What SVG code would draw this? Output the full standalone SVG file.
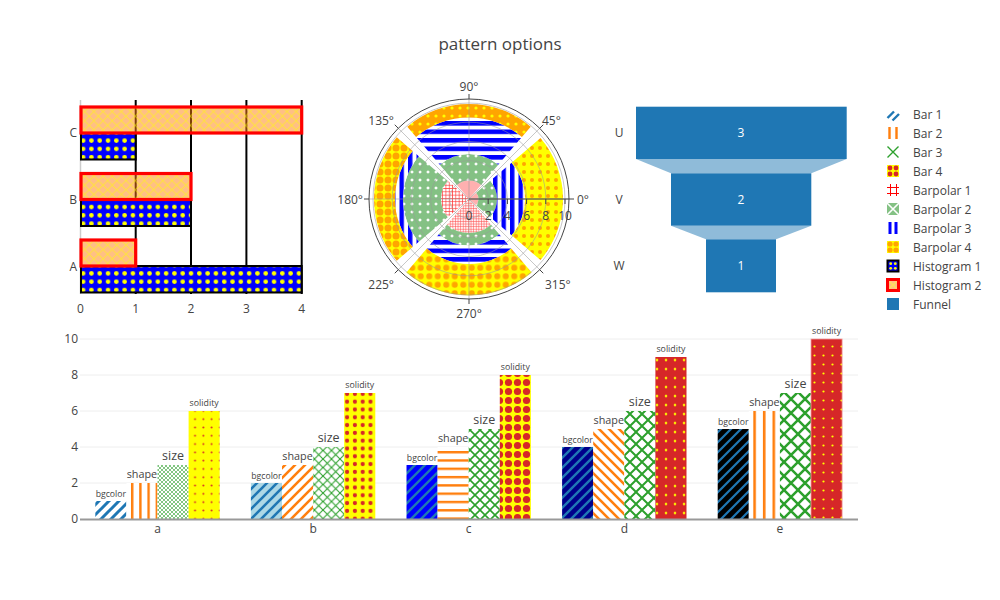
<svg xmlns="http://www.w3.org/2000/svg" width="1000" height="600" viewBox="0 0 1000 600">
<style>
text{font-family:"Open Sans",Verdana,"Liberation Sans",Arial,sans-serif;fill:#444}
.t12{font-size:12px}
.mid{text-anchor:middle}
.end{text-anchor:end}
.pg{fill:none;stroke:#999;stroke-opacity:.55;stroke-width:1}
.ax{stroke:#444;stroke-width:1;fill:none}
</style>
<defs>
<!-- histogram patterns -->
<pattern id="hdots" patternUnits="userSpaceOnUse" x="79" y="136.5" width="8.3" height="8.3"><rect width="8.3" height="8.3" fill="#0000ff"/><circle cx="4.15" cy="4.15" r="2.3" fill="#ffff00"/></pattern>
<pattern id="hx" patternUnits="userSpaceOnUse" x="80" y="107" width="9.2" height="9.2"><rect width="9.2" height="9.2" fill="#ff7f0e" fill-opacity="0.5"/><path d="M-1,-1L10.2,10.2M10.2,-1L-1,10.2" stroke="#ffff00" stroke-opacity="0.55" stroke-width="1"/></pattern>
<!-- polar patterns -->
<pattern id="pgA" patternUnits="userSpaceOnUse" width="3.3" height="3.3"><rect width="3.3" height="3.3" fill="#fff"/><path d="M0,0.35H3.3M0.35,0V3.3" stroke="#ff3535" stroke-width="0.7"/></pattern>
<pattern id="pgB" patternUnits="userSpaceOnUse" width="2.6" height="2.6"><rect width="2.6" height="2.6" fill="#fff2f2"/><path d="M0,0.3H2.6M0.3,0V2.6" stroke="#ff4a4a" stroke-width="0.6"/></pattern>
<pattern id="pgr" patternUnits="userSpaceOnUse" width="8" height="8"><rect width="8" height="8" fill="#84c184"/><polygon points="4,2.2 5.8,4 4,5.8 2.2,4" fill="#fff"/></pattern>
<pattern id="pbh" patternUnits="userSpaceOnUse" y="2" width="8.5" height="8.5"><rect width="8.5" height="8.5" fill="#fff"/><rect width="8.5" height="4.6" fill="#0000ff"/></pattern>
<pattern id="pbv" patternUnits="userSpaceOnUse" width="8.5" height="8.5"><rect width="8.5" height="8.5" fill="#fff"/><rect width="4.4" height="8.5" fill="#0000ff"/></pattern>
<pattern id="py1" patternUnits="userSpaceOnUse" width="8" height="8"><rect width="8" height="8" fill="#ffff00"/><circle cx="4" cy="4" r="2" fill="#ffa500"/></pattern>
<pattern id="poy" patternUnits="userSpaceOnUse" width="8" height="8"><rect width="8" height="8" fill="#ffa500"/><circle cx="4" cy="4" r="1.6" fill="#ffff00"/></pattern>
<pattern id="py3" patternUnits="userSpaceOnUse" width="8" height="8"><rect width="8" height="8" fill="#ffff00"/><circle cx="4" cy="4" r="3.5" fill="#ffa500"/></pattern>
<pattern id="py2" patternUnits="userSpaceOnUse" width="8.5" height="8.5"><rect width="8.5" height="8.5" fill="#ffff00"/><circle cx="4.25" cy="4.25" r="3" fill="#ffa500"/></pattern>
<!-- bar 1: bgcolor -->
<pattern id="b1a" patternUnits="userSpaceOnUse" width="10" height="10"><rect width="10" height="10" fill="#fff"/><path d="M-1,11L11,-1M-1,1L1,-1M9,11L11,9" stroke="#1f77b4" stroke-width="3"/></pattern>
<pattern id="b1b" patternUnits="userSpaceOnUse" width="10" height="10"><rect width="10" height="10" fill="#add8e6"/><path d="M-1,11L11,-1M-1,1L1,-1M9,11L11,9" stroke="#1f77b4" stroke-width="2.6"/></pattern>
<pattern id="b1c" patternUnits="userSpaceOnUse" width="10" height="10"><rect width="10" height="10" fill="#0000ff"/><path d="M-1,11L11,-1M-1,1L1,-1M9,11L11,9" stroke="#1f77b4" stroke-width="2.4"/></pattern>
<pattern id="b1d" patternUnits="userSpaceOnUse" width="10" height="10"><rect width="10" height="10" fill="#00008b"/><path d="M-1,11L11,-1M-1,1L1,-1M9,11L11,9" stroke="#1f77b4" stroke-width="2.4"/></pattern>
<pattern id="b1e" patternUnits="userSpaceOnUse" width="10" height="10"><rect width="10" height="10" fill="#000"/><path d="M-1,11L11,-1M-1,1L1,-1M9,11L11,9" stroke="#1f77b4" stroke-width="2.2"/></pattern>
<!-- bar 2: shape -->
<pattern id="b2a" patternUnits="userSpaceOnUse" x="131" width="8.2" height="10"><rect width="8.2" height="10" fill="#fff"/><rect width="2.4" height="10" fill="#ff7f0e"/></pattern>
<pattern id="b2b" patternUnits="userSpaceOnUse" width="10" height="10"><rect width="10" height="10" fill="#fff"/><path d="M-1,11L11,-1M-1,1L1,-1M9,11L11,9" stroke="#ff7f0e" stroke-width="2.6"/></pattern>
<pattern id="b2c" patternUnits="userSpaceOnUse" y="451" width="10" height="8.3"><rect width="10" height="8.3" fill="#fff"/><rect width="10" height="2.4" fill="#ff7f0e"/></pattern>
<pattern id="b2d" patternUnits="userSpaceOnUse" width="10" height="10"><rect width="10" height="10" fill="#fff"/><path d="M-1,-1L11,11M9,-1L11,1M-1,9L1,11" stroke="#ff7f0e" stroke-width="2.6"/></pattern>
<pattern id="b2e" patternUnits="userSpaceOnUse" x="753.3" width="9.6" height="10"><rect width="9.6" height="10" fill="#fff"/><rect width="2.6" height="10" fill="#ff7f0e"/></pattern>
<!-- bar 3: size -->
<pattern id="b3a" patternUnits="userSpaceOnUse" width="4" height="4"><rect width="4" height="4" fill="#fff"/><path d="M-1,-1L5,5M5,-1L-1,5" stroke="#2ca02c" stroke-width="0.6"/></pattern>
<pattern id="b3b" patternUnits="userSpaceOnUse" width="8.5" height="8.5"><rect width="8.5" height="8.5" fill="#fff"/><path d="M-1,-1L9.5,9.5M9.5,-1L-1,9.5" stroke="#2ca02c" stroke-width="1.1"/></pattern>
<pattern id="b3c" patternUnits="userSpaceOnUse" width="10" height="10"><rect width="10" height="10" fill="#fff"/><path d="M-1,-1L11,11M11,-1L-1,11" stroke="#2ca02c" stroke-width="1.6"/></pattern>
<pattern id="b3d" patternUnits="userSpaceOnUse" width="12" height="12"><rect width="12" height="12" fill="#fff"/><path d="M-1,-1L13,13M13,-1L-1,13" stroke="#2ca02c" stroke-width="2"/></pattern>
<pattern id="b3e" patternUnits="userSpaceOnUse" width="14" height="14"><rect width="14" height="14" fill="#fff"/><path d="M-1,-1L15,15M15,-1L-1,15" stroke="#2ca02c" stroke-width="2.5"/></pattern>
<!-- bar 4: solidity -->
<pattern id="b4a" patternUnits="userSpaceOnUse" width="8.3" height="8.3"><rect width="8.3" height="8.3" fill="#ffff00"/><circle cx="4.15" cy="4.15" r="1" fill="#d62728"/></pattern>
<pattern id="b4b" patternUnits="userSpaceOnUse" width="7.8" height="7.8"><rect width="7.8" height="7.8" fill="#ffff00"/><circle cx="3.9" cy="3.9" r="2.1" fill="#d62728"/></pattern>
<pattern id="b4c" patternUnits="userSpaceOnUse" width="9" height="9"><rect width="9" height="9" fill="#ffff00"/><circle cx="4.5" cy="4.5" r="3.6" fill="#d62728"/></pattern>
<pattern id="b4d" patternUnits="userSpaceOnUse" width="9" height="9"><rect width="9" height="9" fill="#ffff00"/><circle cx="4.5" cy="4.5" r="5.3" fill="#d62728"/></pattern>
<pattern id="b4e" patternUnits="userSpaceOnUse" width="9" height="9"><rect width="9" height="9" fill="#d62728"/><circle cx="4.5" cy="4.5" r="1.1" fill="#ffff00"/></pattern>
</defs>
<rect width="1000" height="600" fill="#fff"/>
<text id="title" x="500" y="50" class="mid" style="font-size:17px">pattern options</text>

<!-- top-left histogram -->
<g id="histogram">
<line x1="80.5" y1="100" x2="80.5" y2="294" stroke="#ccc" stroke-width="1.5"/>
<g stroke="#000" stroke-width="2">
<line x1="135.7" y1="100" x2="135.7" y2="294"/>
<line x1="191" y1="100" x2="191" y2="294"/>
<line x1="246.4" y1="100" x2="246.4" y2="294"/>
<line x1="301.7" y1="100" x2="301.7" y2="294"/>
</g>
<g id="hist1" fill="url(#hdots)" stroke="#000" stroke-width="2">
<rect x="81" y="266" width="220.7" height="26.5"/>
<rect x="81" y="199.5" width="110" height="26.5"/>
<rect x="81" y="133" width="54.7" height="26.5"/>
</g>
<g id="hist2" fill="url(#hx)" stroke="#ff0000" stroke-width="3.2">
<rect x="81" y="240" width="54.7" height="26"/>
<rect x="81" y="173.5" width="110" height="26"/>
<rect x="81" y="107" width="220.7" height="26"/>
</g>
<g class="t12">
<text x="77" y="270.5" class="end">A</text>
<text x="77" y="203.5" class="end">B</text>
<text x="77" y="137" class="end">C</text>
<text x="80.5" y="313" class="mid">0</text>
<text x="135.7" y="313" class="mid">1</text>
<text x="191" y="313" class="mid">2</text>
<text x="246.4" y="313" class="mid">3</text>
<text x="301.7" y="313" class="mid">4</text>
</g>
</g>

<!-- polar -->
<g id="polar">
<g id="barpolar1">
<path fill="#ffb0b0" d="M469,199L476.22,205.17A9.5,9.5 0 0 0 476.22,192.83Z"/>
<path fill="#ffb0b0" d="M469,199L481.02,184.93A18.5,18.5 0 0 0 456.98,184.93Z"/>
<path fill="url(#pgA)" d="M469,199L447.71,180.81A28,28 0 0 0 447.71,217.19Z"/>
<path fill="url(#pgB)" d="M469,199L446.92,224.85A34,34 0 0 0 491.08,224.85Z"/>
</g>
<g id="barpolar2" fill="url(#pgr)">
<path d="M490.29,217.19A28,28 0 0 0 490.29,180.81L476.22,192.83A9.5,9.5 0 0 1 476.22,205.17Z"/>
<path d="M498.23,164.78A45,45 0 0 0 439.77,164.78L456.98,184.93A18.5,18.5 0 0 1 481.02,184.93Z"/>
<path d="M418.81,156.14A66,66 0 0 0 418.81,241.86L447.71,217.19A28,28 0 0 1 447.71,180.81Z"/>
<path d="M438.80,234.36A46.5,46.5 0 0 0 499.20,234.36L491.08,224.85A34,34 0 0 1 446.92,224.85Z"/>
</g>
<g id="barpolar3">
<path fill="url(#pbv)" d="M511.58,235.37A56,56 0 0 0 511.58,162.63L490.29,180.81A28,28 0 0 1 490.29,217.19Z"/>
<path fill="url(#pbh)" d="M521.93,137.03A81.5,81.5 0 0 0 416.07,137.03L439.77,164.78A45,45 0 0 1 498.23,164.78Z"/>
<path fill="url(#pbv)" d="M412.73,150.94A74,74 0 0 0 412.73,247.06L418.81,241.86A66,66 0 0 1 418.81,156.14Z"/>
<path fill="url(#pbh)" d="M426.79,248.43A65,65 0 0 0 511.21,248.43L499.20,234.36A46.5,46.5 0 0 1 438.80,234.36Z"/>
</g>
<g id="barpolar4">
<path fill="url(#py1)" d="M540.48,260.05A94,94 0 0 0 540.48,137.95L511.58,162.63A56,56 0 0 1 511.58,235.37Z"/>
<path fill="url(#poy)" d="M530.70,126.76A95,95 0 0 0 407.30,126.76L416.07,137.03A81.5,81.5 0 0 1 521.93,137.03Z"/>
<path fill="url(#py3)" d="M396.76,137.30A95,95 0 0 0 396.76,260.70L412.73,247.06A74,74 0 0 1 412.73,150.94Z"/>
<path fill="url(#py2)" d="M406.33,272.38A96.5,96.5 0 0 0 531.67,272.38L511.21,248.43A65,65 0 0 1 426.79,248.43Z"/>
</g>
<g id="polar-grid" class="pg">
<circle cx="469" cy="199" r="19.2"/>
<circle cx="469" cy="199" r="38.4"/>
<circle cx="469" cy="199" r="57.6"/>
<circle cx="469" cy="199" r="76.8"/>
<circle cx="469" cy="199" r="96"/>
<path d="M469,99V299M369,199H569M398.29,128.29L539.71,269.71M539.71,128.29L398.29,269.71"/>
</g>
<g id="polar-axes">
<circle cx="469" cy="199" r="100" class="ax"/>
<path class="ax" d="M469,199H569M488.2,199v5M507.4,199v5M526.6,199v5M545.8,199v5M565,199v5M569,199h5M469,99v-5M469,299v5M369,199h-5M539.71,128.29l3.54,-3.54M398.29,128.29l-3.54,-3.54M398.29,269.71l-3.54,3.54M539.71,269.71l3.54,3.54"/>
<g class="t12">
<text x="469" y="219.5" class="mid">0</text>
<text x="488.2" y="219.5" class="mid">2</text>
<text x="507.4" y="219.5" class="mid">4</text>
<text x="526.6" y="219.5" class="mid">6</text>
<text x="545.8" y="219.5" class="mid">8</text>
<text x="565" y="219.5" class="mid">10</text>
<text x="469" y="90.5" class="mid">90°</text>
<text x="469" y="318" class="mid">270°</text>
<text x="577" y="204">0°</text>
<text x="363" y="204" class="end">180°</text>
<text x="542" y="125">45°</text>
<text x="394" y="125" class="end">135°</text>
<text x="394" y="288.5" class="end">225°</text>
<text x="545" y="288.5">315°</text>
</g>
</g>
</g>

<!-- funnel -->
<g id="funnel">
<g id="funnel-connectors" fill="#8fbbd9">
<polygon points="636,159 846.7,159 811.3,173.3 671,173.3"/>
<polygon points="671,225.7 811.3,225.7 776,239.3 706,239.3"/>
</g>
<g id="funnel-bars" fill="#1f77b4">
<rect x="636" y="106.7" width="210.7" height="52.3"/>
<rect x="671" y="173.3" width="140.3" height="52.4"/>
<rect x="706" y="239.3" width="70" height="53"/>
</g>
<g class="t12">
<text x="741" y="137" class="mid" style="fill:#fff">3</text>
<text x="741" y="203.5" class="mid" style="fill:#fff">2</text>
<text x="741" y="270" class="mid" style="fill:#fff">1</text>
<text x="619" y="137" class="mid">U</text>
<text x="619" y="203.5" class="mid">V</text>
<text x="619" y="270" class="mid">W</text>
</g>
</g>

<!-- bottom bar chart -->
<g id="barchart">
<g stroke="#eee" stroke-width="1">
<line x1="80" y1="339" x2="858" y2="339"/>
<line x1="80" y1="375" x2="858" y2="375"/>
<line x1="80" y1="411" x2="858" y2="411"/>
<line x1="80" y1="447" x2="858" y2="447"/>
<line x1="80" y1="483" x2="858" y2="483"/>
</g>
<g id="bar1">
<rect x="95.3" y="501" width="31.1" height="18" fill="url(#b1a)"/>
<rect x="250.9" y="483" width="31.1" height="36" fill="url(#b1b)"/>
<rect x="406.5" y="465" width="31.1" height="54" fill="url(#b1c)"/>
<rect x="562.1" y="447" width="31.1" height="72" fill="url(#b1d)"/>
<rect x="717.7" y="429" width="31.1" height="90" fill="url(#b1e)"/>
</g>
<g id="bar2">
<rect x="126.4" y="483" width="31.1" height="36" fill="url(#b2a)"/>
<rect x="282" y="465" width="31.1" height="54" fill="url(#b2b)"/>
<rect x="437.6" y="447" width="31.1" height="72" fill="url(#b2c)"/>
<rect x="593.2" y="429" width="31.1" height="90" fill="url(#b2d)"/>
<rect x="748.8" y="411" width="31.1" height="108" fill="url(#b2e)"/>
</g>
<g id="bar3">
<rect x="157.5" y="465" width="31.1" height="54" fill="url(#b3a)"/>
<rect x="313.1" y="447" width="31.1" height="72" fill="url(#b3b)"/>
<rect x="468.7" y="429" width="31.1" height="90" fill="url(#b3c)"/>
<rect x="624.3" y="411" width="31.1" height="108" fill="url(#b3d)"/>
<rect x="779.9" y="393" width="31.1" height="126" fill="url(#b3e)"/>
</g>
<g id="bar4">
<rect x="188.6" y="411" width="31.1" height="108" fill="url(#b4a)"/>
<rect x="344.2" y="393" width="31.1" height="126" fill="url(#b4b)"/>
<rect x="499.8" y="375" width="31.1" height="144" fill="url(#b4c)"/>
<rect x="655.4" y="357" width="31.1" height="162" fill="url(#b4d)"/>
<rect x="811" y="339" width="31.1" height="180" fill="url(#b4e)" stroke="#f2a0a0" stroke-width="0.8"/>
</g>
<line x1="80" y1="519.5" x2="858" y2="519.5" stroke="#999" stroke-width="2"/>
<g class="mid">
<text x="110.85" y="497" style="font-size:8.7px">bgcolor</text>
<text x="266.45" y="479" style="font-size:8.7px">bgcolor</text>
<text x="422.05" y="461" style="font-size:8.7px">bgcolor</text>
<text x="577.65" y="443" style="font-size:8.7px">bgcolor</text>
<text x="733.25" y="425" style="font-size:8.7px">bgcolor</text>
<text x="141.95" y="478" style="font-size:10.8px">shape</text>
<text x="297.55" y="460" style="font-size:10.8px">shape</text>
<text x="453.15" y="442" style="font-size:10.8px">shape</text>
<text x="608.75" y="424" style="font-size:10.8px">shape</text>
<text x="764.35" y="406" style="font-size:10.8px">shape</text>
<text x="173.05" y="460" style="font-size:12.5px">size</text>
<text x="328.65" y="442" style="font-size:12.5px">size</text>
<text x="484.25" y="424" style="font-size:12.5px">size</text>
<text x="639.85" y="406" style="font-size:12.5px">size</text>
<text x="795.45" y="388" style="font-size:12.5px">size</text>
<text x="204.15" y="405.5" style="font-size:8.8px">solidity</text>
<text x="359.75" y="387.5" style="font-size:8.8px">solidity</text>
<text x="515.35" y="369.5" style="font-size:8.8px">solidity</text>
<text x="670.95" y="351.5" style="font-size:8.8px">solidity</text>
<text x="826.55" y="333.5" style="font-size:8.8px">solidity</text>
</g>
<g class="t12">
<text x="78" y="523" class="end">0</text>
<text x="78" y="487" class="end">2</text>
<text x="78" y="451" class="end">4</text>
<text x="78" y="415" class="end">6</text>
<text x="78" y="379" class="end">8</text>
<text x="78" y="343" class="end">10</text>
<text x="157.5" y="533" class="mid">a</text>
<text x="313.1" y="533" class="mid">b</text>
<text x="468.7" y="533" class="mid">c</text>
<text x="624.3" y="533" class="mid">d</text>
<text x="779.9" y="533" class="mid">e</text>
</g>
</g>

<!-- legend -->
<g id="legend">
<g id="lg-bar1"><path d="M887.5,118L894,111.5M892.5,120.5L899,114" stroke="#1f77b4" stroke-width="2.4"/><text x="913" y="118.5" class="t12">Bar 1</text></g>
<g id="lg-bar2"><path d="M889.5,127V139M896.5,127V139" stroke="#ff7f0e" stroke-width="2.4"/><text x="913" y="137.5" class="t12">Bar 2</text></g>
<g id="lg-bar3"><path d="M887.5,146.5L898.5,157.5M898.5,146.5L887.5,157.5" stroke="#2ca02c" stroke-width="1.4"/><text x="913" y="156.5" class="t12">Bar 3</text></g>
<g id="lg-bar4"><rect x="887" y="165" width="12" height="12" fill="#ffff00"/><g fill="#d62728"><circle cx="890" cy="168" r="2.4"/><circle cx="896" cy="168" r="2.4"/><circle cx="890" cy="174" r="2.4"/><circle cx="896" cy="174" r="2.4"/></g><text x="913" y="175.5" class="t12">Bar 4</text></g>
<g id="lg-bp1"><path d="M890.5,184V196M896.5,184V196M887,187.5H899M887,193.5H899" stroke="#ff0000" stroke-width="1"/><text x="913" y="194.5" class="t12">Barpolar 1</text></g>
<g id="lg-bp2"><rect x="887" y="203" width="12" height="12" fill="#84c184"/><path d="M887,203L899,215M899,203L887,215" stroke="#fff" stroke-width="1.6"/><text x="913" y="213.5" class="t12">Barpolar 2</text></g>
<g id="lg-bp3"><rect x="888.5" y="222" width="3" height="12" fill="#0000ff"/><rect x="894.5" y="222" width="3" height="12" fill="#0000ff"/><text x="913" y="232.5" class="t12">Barpolar 3</text></g>
<g id="lg-bp4"><rect x="887" y="241" width="12" height="12" fill="#ffff00"/><g fill="#ffa500"><circle cx="890" cy="244" r="2.6"/><circle cx="896" cy="244" r="2.6"/><circle cx="890" cy="250" r="2.6"/><circle cx="896" cy="250" r="2.6"/></g><text x="913" y="251.5" class="t12">Barpolar 4</text></g>
<g id="lg-h1"><rect x="887.5" y="260.5" width="11" height="11" fill="#0000ff" stroke="#000" stroke-width="2"/><g fill="#ffff00"><circle cx="890.7" cy="263.7" r="1.4"/><circle cx="895.3" cy="263.7" r="1.4"/><circle cx="890.7" cy="268.3" r="1.4"/><circle cx="895.3" cy="268.3" r="1.4"/></g><text x="913" y="270.5" class="t12">Histogram 1</text></g>
<g id="lg-h2"><rect x="887.5" y="279.5" width="11" height="11" fill="#ffbf87" stroke="#ff0000" stroke-width="3"/><path d="M889.5,281.5L896.5,288.5M896.5,281.5L889.5,288.5" stroke="#ffe05a" stroke-width="1.4"/><text x="913" y="289.5" class="t12">Histogram 2</text></g>
<g id="lg-funnel"><rect x="887" y="298" width="12" height="12" fill="#1f77b4"/><text x="913" y="308.5" class="t12">Funnel</text></g>
</g>
</svg>
